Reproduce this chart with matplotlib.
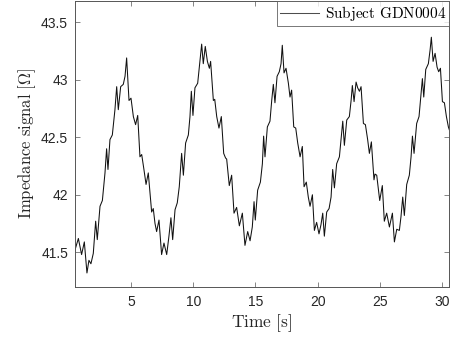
import numpy as np
import matplotlib
matplotlib.use('Agg')
import matplotlib.pyplot as plt

# Values (time in s, impedance in ohm)
time_s = [0.50, 0.77, 1.03, 1.25, 1.46, 1.62, 1.78, 1.97, 2.16, 2.29,
          2.51, 2.70, 2.91, 3.04, 3.15, 3.31, 3.50, 3.71, 3.85, 3.98,
          4.17, 4.38, 4.52, 4.65, 4.84, 5.00, 5.19, 5.37, 5.54, 5.72,
          5.86, 6.04, 6.21, 6.39, 6.66, 6.79, 6.93, 7.06, 7.25, 7.46,
          7.65, 7.87, 8.05, 8.21, 8.35, 8.54, 8.72, 8.88, 9.07, 9.21,
          9.39, 9.61, 9.74, 9.85, 9.98, 10.14, 10.36, 10.49, 10.68, 10.81,
          10.97, 11.14, 11.30, 11.40, 11.62, 11.73, 11.89, 12.07, 12.26, 12.45,
          12.60, 12.69, 12.90, 13.09, 13.28, 13.49, 13.71, 13.95, 14.16, 14.38,
          14.57, 14.75, 14.89, 14.99, 15.18, 15.40, 15.56, 15.66, 15.77, 15.96,
          16.17, 16.31, 16.44, 16.57, 16.74, 16.92, 17.06, 17.16, 17.30, 17.46,
          17.65, 17.78, 17.91, 18.08, 18.24, 18.40, 18.59, 18.77, 18.91, 19.09,
          19.25, 19.39, 19.58, 19.74, 19.92, 20.11, 20.27, 20.41, 20.54, 20.73,
          20.92, 21.08, 21.21, 21.35, 21.53, 21.75, 21.88, 22.02, 22.15, 22.34,
          22.55, 22.69, 22.79, 22.93, 23.09, 23.22, 23.36, 23.49, 23.68, 23.84,
          24.02, 24.16, 24.32, 24.53, 24.61, 24.75, 24.99, 25.20, 25.36, 25.55,
          25.77, 26.01, 26.17, 26.36, 26.57, 26.70, 26.84, 26.97, 27.16, 27.37,
          27.51, 27.62, 27.75, 27.96, 28.15, 28.29, 28.42, 28.53, 28.69, 28.90,
          29.04, 29.14, 29.28, 29.44, 29.60, 29.73, 29.87, 30.03, 30.19, 30.35,
          30.51, 30.60]
impedance = [41.52, 41.62, 41.48, 41.59, 41.32, 41.43, 41.40, 41.49, 41.77, 41.61,
             41.90, 41.95, 42.19, 42.40, 42.22, 42.48, 42.52, 42.74, 42.94, 42.74,
             42.94, 42.96, 43.03, 43.19, 42.82, 42.84, 42.68, 42.61, 42.69, 42.33,
             42.35, 42.22, 42.09, 42.19, 41.85, 41.88, 41.75, 41.68, 41.78, 41.48,
             41.58, 41.48, 41.64, 41.80, 41.61, 41.87, 41.93, 42.07, 42.36, 42.17,
             42.45, 42.52, 42.68, 42.90, 42.69, 42.93, 42.97, 43.11, 43.31, 43.14,
             43.29, 43.16, 43.10, 43.16, 42.82, 42.83, 42.68, 42.58, 42.68, 42.36,
             42.32, 42.31, 42.08, 42.17, 41.84, 41.89, 41.73, 41.84, 41.56, 41.68,
             41.60, 41.72, 41.94, 41.78, 42.04, 42.11, 42.27, 42.51, 42.33, 42.59,
             42.64, 42.82, 42.96, 42.80, 43.03, 43.07, 43.14, 43.30, 43.06, 43.10,
             42.97, 42.85, 42.91, 42.59, 42.58, 42.45, 42.33, 42.42, 42.07, 42.11,
             41.98, 41.90, 42.00, 41.69, 41.76, 41.66, 41.74, 41.84, 41.64, 41.85,
             41.88, 41.98, 42.22, 42.06, 42.27, 42.33, 42.48, 42.64, 42.43, 42.65,
             42.68, 42.82, 42.95, 42.81, 42.98, 42.93, 42.90, 42.94, 42.62, 42.61,
             42.48, 42.36, 42.46, 42.13, 42.18, 42.17, 41.95, 42.08, 41.77, 41.84,
             41.72, 41.84, 41.59, 41.70, 41.69, 41.81, 41.98, 41.82, 42.09, 42.17,
             42.33, 42.51, 42.36, 42.62, 42.68, 42.85, 43.01, 42.85, 43.09, 43.14,
             43.26, 43.37, 43.16, 43.23, 43.11, 43.07, 43.10, 42.81, 42.80, 42.68,
             42.59, 42.56]
x_ticks = [5, 10, 15, 20, 25, 30]
y_ticks = [41.5, 42, 42.5, 43, 43.5]
y_tick_labels = ['41.5', '42', '42.5', '43', '43.5']

plt.rcParams['mathtext.fontset'] = 'cm'
plt.rcParams['font.family'] = ['Liberation Sans', 'DejaVu Sans']

fig = plt.figure(figsize=(4.51, 3.37), dpi=100)
ax = fig.add_axes([0.1663, 0.1484, 0.8293, 0.8486])

ax.plot(time_s, impedance, color='#111111', linewidth=0.75, label=r'$\mathrm{Subject\ GDN0004}$')

ax.set_xlim(0.5, 30.56)
ax.set_ylim(41.198, 43.685)
ax.set_xticks(x_ticks)
ax.set_yticks(y_ticks)
ax.set_yticklabels(y_tick_labels)

ax.tick_params(direction='in', top=True, right=True, length=3.5, width=0.5,
               color='#555555', labelsize=10, labelcolor='#262626')
ax.tick_params(axis='x', pad=6)
ax.tick_params(axis='y', pad=5)
for s in ax.spines.values():
    s.set_color('#555555')
    s.set_linewidth(0.7)

ax.set_xlabel(r'$\mathrm{Time\ [s]}$', fontsize=12.5, color='#262626', labelpad=2)
ax.set_ylabel(r'$\mathrm{Impedance\ signal\ [\Omega]}$', fontsize=12, color='#262626', labelpad=2)

leg = ax.legend(loc='upper right', fontsize=11, frameon=True, fancybox=False,
                borderaxespad=0, handlelength=2.6, handletextpad=0.35,
                borderpad=0.2)
leg.get_frame().set_edgecolor('#555555')
leg.get_frame().set_linewidth(0.7)
leg.get_lines()[0].set_color('#4d4d4d')

fig.savefig('out.png', dpi=100)
